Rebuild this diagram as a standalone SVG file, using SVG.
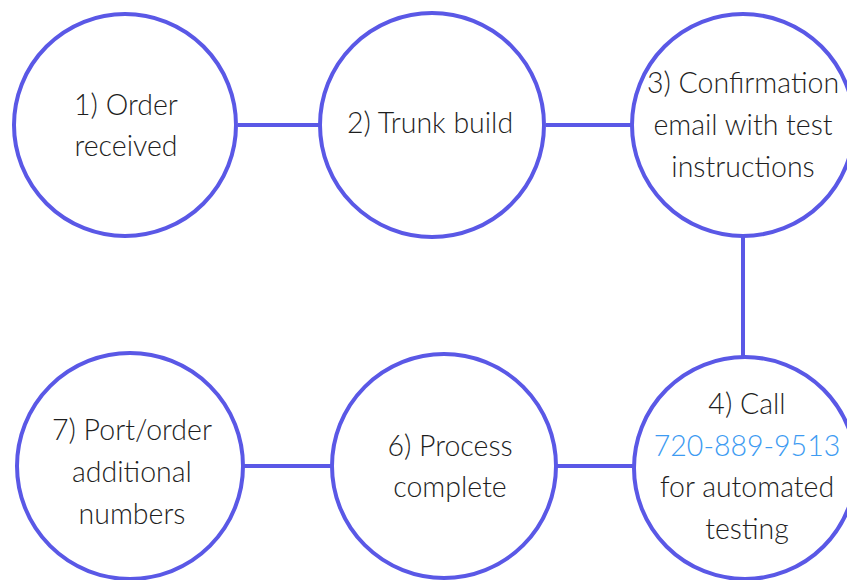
<svg xmlns="http://www.w3.org/2000/svg" width="847" height="580" viewBox="0 0 847 580">
<style>
.node circle{fill:#ffffff;stroke:#5a58e6;stroke-width:4}
.conn line{stroke:#5a58e6;stroke-width:4}
text{font-family:Lato,"Noto Sans",sans-serif;font-weight:300;font-size:28.5px;fill:#1e1e1e;text-anchor:middle}
.ph{fill:#3d9bf2}
</style>
<rect width="847" height="580" fill="#ffffff"/>
<g id="connectors" class="conn">
<line x1="238" y1="125" x2="322" y2="125"/>
<line x1="546" y1="125" x2="632" y2="125"/>
<line x1="743" y1="237" x2="743" y2="357"/>
<line x1="243" y1="466" x2="332" y2="466"/>
<line x1="556" y1="466" x2="634" y2="466"/>
</g>
<g id="n1" class="node">
<circle cx="125" cy="125" r="111"/>
<text x="126" y="115">1) Order</text>
<text x="126" y="156">received</text>
</g>
<g id="n2" class="node">
<circle cx="432" cy="125" r="112"/>
<text x="430" y="133">2) Trunk build</text>
</g>
<g id="n3" class="node">
<circle cx="743" cy="125" r="111"/>
<text x="743" y="93">3) Confirmation</text>
<text x="743" y="135">email with test</text>
<text x="743" y="177">instructions</text>
</g>
<g id="n4" class="node">
<circle cx="745" cy="468" r="111"/>
<text x="747" y="414">4) Call</text>
<text x="747" y="456" class="ph">720-889-9513</text>
<text x="747" y="497">for automated</text>
<text x="747" y="539">testing</text>
</g>
<g id="n6" class="node">
<circle cx="444" cy="466" r="112"/>
<text x="450" y="456">6) Process</text>
<text x="450" y="497">complete</text>
</g>
<g id="n7" class="node">
<circle cx="130" cy="466" r="113"/>
<text x="132" y="440">7) Port/order</text>
<text x="132" y="482">additional</text>
<text x="132" y="524">numbers</text>
</g>
</svg>
